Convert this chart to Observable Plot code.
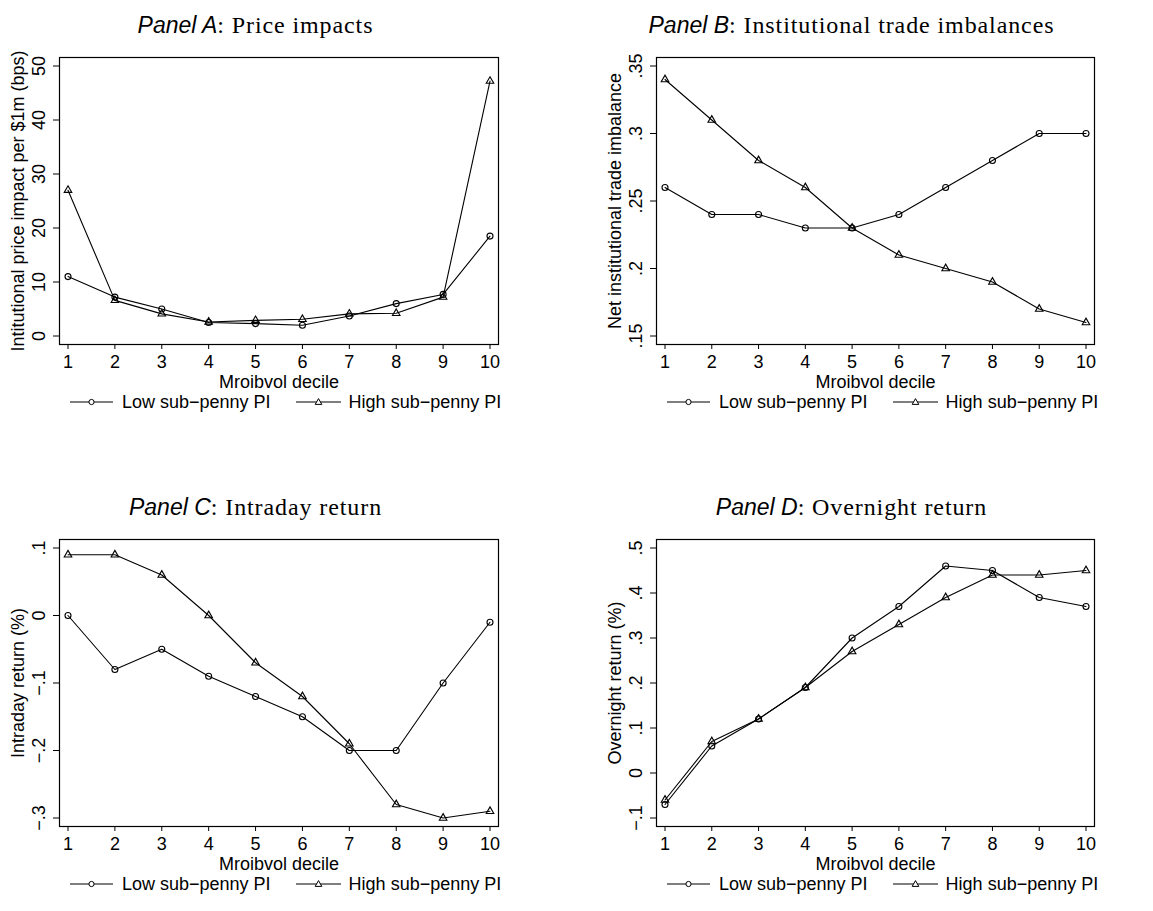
<!DOCTYPE html>
<html>
<head>
<meta charset="utf-8">
<script src="https://cdn.jsdelivr.net/npm/d3@7"></script>
<script src="https://cdn.jsdelivr.net/npm/@observablehq/plot@0.6"></script>
<style>
  body { margin: 0; background: #fff; }
  #page { position: relative; width: 1153px; height: 911px; overflow: hidden; background: #fff; }
  .panel { position: absolute; }
  .title { position: absolute; text-align: center; font-size: 24px; line-height: 24px; white-space: nowrap; color: #000; }
  .title .it { font-family: "Liberation Sans", Arial, sans-serif; font-style: italic; font-size: 23px; }
  .title .rm { font-family: "Liberation Serif", "Times New Roman", serif; letter-spacing: 0.9px; }
  .legend { position: absolute; display: flex; align-items: center; font-family: "Liberation Sans", Arial, sans-serif;
            font-size: 18px; line-height: 18px; white-space: nowrap; color: #000; }
  .legend svg { display: block; }
</style>
</head>
<body>
<div id="page"></div>
<script>
// Mroibvol deciles on the x axis
const deciles = [1, 2, 3, 4, 5, 6, 7, 8, 9, 10];
const seriesNames = ["Low sub\u2212penny PI", "High sub\u2212penny PI"];
const xLabel = "Mroibvol decile";

// Panel A: institutional price impact per $1m (bps)
const priceImpactLow  = [11.0, 7.2, 5.0, 2.5, 2.3, 2.0, 3.7, 6.0, 7.7, 18.5];
const priceImpactHigh = [27.0, 6.6, 4.1, 2.6, 2.9, 3.1, 4.1, 4.2, 7.2, 47.2];
const priceImpactTicks = [0, 10, 20, 30, 40, 50];

// Panel B: net institutional trade imbalance
const imbalanceLow  = [0.26, 0.24, 0.24, 0.23, 0.23, 0.24, 0.26, 0.28, 0.30, 0.30];
const imbalanceHigh = [0.34, 0.31, 0.28, 0.26, 0.23, 0.21, 0.20, 0.19, 0.17, 0.16];
const imbalanceTicks = [0.15, 0.2, 0.25, 0.3, 0.35];

// Panel C: intraday return (%)
const intradayLow  = [0.00, -0.08, -0.05, -0.09, -0.12, -0.15, -0.20, -0.20, -0.10, -0.01];
const intradayHigh = [0.09, 0.09, 0.06, 0.00, -0.07, -0.12, -0.19, -0.28, -0.30, -0.29];
const intradayTicks = [-0.3, -0.2, -0.1, 0, 0.1];

// Panel D: overnight return (%)
const overnightLow  = [-0.07, 0.06, 0.12, 0.19, 0.30, 0.37, 0.46, 0.45, 0.39, 0.37];
const overnightHigh = [-0.06, 0.07, 0.12, 0.19, 0.27, 0.33, 0.39, 0.44, 0.44, 0.45];
const overnightTicks = [-0.1, 0, 0.1, 0.2, 0.3, 0.4, 0.5];

// Stata-style numbers: no leading zero, true minus sign
const stataNum = v => {
  if (v === 0) return "0";
  const s = String(+Math.abs(v).toFixed(4)).replace(/^0\./, ".");
  return (v < 0 ? "\u2212" : "") + s;
};

const page = document.getElementById("page");

const panels = [
  {letter: "A", name: "Price impacts", low: priceImpactLow, high: priceImpactHigh, ticks: priceImpactTicks,
   yLabel: "Intitutional price impact per $1m (bps)", left: 0, top: 40, width: 576, marginLeft: 59, marginRight: 78,
   titleLeft: 0, titleWidth: 511},
  {letter: "B", name: "Institutional trade imbalances", low: imbalanceLow, high: imbalanceHigh, ticks: imbalanceTicks,
   yLabel: "Net institutional trade imbalance", left: 576, top: 40, width: 577, marginLeft: 80, marginRight: 59,
   titleLeft: 576, titleWidth: 551},
  {letter: "C", name: "Intraday return", low: intradayLow, high: intradayHigh, ticks: intradayTicks,
   yLabel: "Intraday return (%)", left: 0, top: 522, width: 576, marginLeft: 59, marginRight: 78,
   titleLeft: 0, titleWidth: 511},
  {letter: "D", name: "Overnight return", low: overnightLow, high: overnightHigh, ticks: overnightTicks,
   yLabel: "Overnight return (%)", left: 576, top: 522, width: 577, marginLeft: 80, marginRight: 59,
   titleLeft: 576, titleWidth: 551}
];

const marginTop = 17, marginBottom = 50, plotHeight = 354;

function legendSymbol(kind, width) {
  const ns = "http://www.w3.org/2000/svg";
  const svg = document.createElementNS(ns, "svg");
  svg.setAttribute("width", width);
  svg.setAttribute("height", 10);
  const line = document.createElementNS(ns, "line");
  line.setAttribute("x1", 0); line.setAttribute("x2", width);
  line.setAttribute("y1", 5); line.setAttribute("y2", 5);
  line.setAttribute("stroke", "black"); line.setAttribute("stroke-width", 1.1);
  svg.appendChild(line);
  const cx = width / 2;
  let m;
  if (kind === "circle") {
    m = document.createElementNS(ns, "circle");
    m.setAttribute("cx", cx); m.setAttribute("cy", 5); m.setAttribute("r", 2.6);
  } else {
    m = document.createElementNS(ns, "path");
    m.setAttribute("d", `M${cx},${1.6}L${cx + 3.3},${7.4}L${cx - 3.3},${7.4}Z`);
  }
  m.setAttribute("fill", "white"); m.setAttribute("stroke", "black"); m.setAttribute("stroke-width", 1);
  svg.appendChild(m);
  return svg;
}

for (const p of panels) {
  const rows = deciles.flatMap((d, i) => [
    {decile: d, value: p.low[i], series: seriesNames[0]},
    {decile: d, value: p.high[i], series: seriesNames[1]}
  ]);
  const low = rows.filter(r => r.series === seriesNames[0]);
  const high = rows.filter(r => r.series === seriesNames[1]);

  const chart = Plot.plot({
    width: p.width,
    height: plotHeight,
    marginLeft: p.marginLeft,
    marginRight: p.marginRight,
    marginTop,
    marginBottom,
    style: {fontFamily: "'Liberation Sans', Arial, sans-serif", fontSize: "18px", color: "black", background: "white", overflow: "visible"},
    x: {domain: [1, 10], inset: 8.5},
    y: {domain: [p.ticks[0], p.ticks[p.ticks.length - 1]], inset: 8.5},
    marks: [
      Plot.line(low, {x: "decile", y: "value", stroke: "black", strokeWidth: 1.1}),
      Plot.line(high, {x: "decile", y: "value", stroke: "black", strokeWidth: 1.1}),
      Plot.dot(low, {x: "decile", y: "value", symbol: "circle", r: 3, stroke: "black", fill: "none", strokeWidth: 1.1}),
      Plot.dot(high, {x: "decile", y: "value", symbol: "triangle", r: 2.8, stroke: "black", fill: "none", strokeWidth: 1.1}),
      Plot.frame({stroke: "black", strokeWidth: 1.2}),
      Plot.axisX({ticks: deciles, tickSize: 5, tickPadding: 5.7, tickFormat: d => String(d), label: null, fontSize: 18}),
      Plot.axisY({ticks: p.ticks, tickSize: 6, tickRotate: -90, tickPadding: 8.3, tickFormat: stataNum, label: null, fontSize: 18}),
      Plot.text([xLabel], {frameAnchor: "bottom", dy: 43, lineAnchor: "bottom", textAnchor: "middle", fontSize: 18}),
      Plot.text([p.yLabel], {frameAnchor: "left", dx: -35.5, rotate: -90, lineAnchor: "bottom", textAnchor: "middle", fontSize: 18})
    ]
  });
  const holder = document.createElement("div");
  holder.className = "panel";
  holder.style.left = p.left + "px";
  holder.style.top = p.top + "px";
  holder.appendChild(chart);
  page.appendChild(holder);

  // Title: italic sans panel letter followed by a serif description
  const title = document.createElement("div");
  title.className = "title";
  title.style.left = p.titleLeft + "px";
  title.style.width = p.titleWidth + "px";
  title.style.top = (p.top - 27) + "px";
  const it = document.createElement("span");
  it.className = "it";
  it.textContent = "Panel " + p.letter;
  const rm = document.createElement("span");
  rm.className = "rm";
  rm.textContent = ": " + p.name;
  title.append(it, rm);
  page.appendChild(title);

  // Legend row below the x-axis title
  const legend = document.createElement("div");
  legend.className = "legend";
  legend.style.left = (p.left + p.marginLeft + 11) + "px";
  legend.style.top = (p.top + plotHeight - marginBottom + 49) + "px";
  const t1 = document.createElement("span");
  t1.textContent = seriesNames[0];
  t1.style.marginLeft = "9px";
  const s2 = legendSymbol("triangle", 45);
  s2.style.marginLeft = "25px";
  const t2 = document.createElement("span");
  t2.textContent = seriesNames[1];
  t2.style.marginLeft = "8px";
  legend.append(legendSymbol("circle", 43), t1, s2, t2);
  page.appendChild(legend);
}
</script>
</body>
</html>
